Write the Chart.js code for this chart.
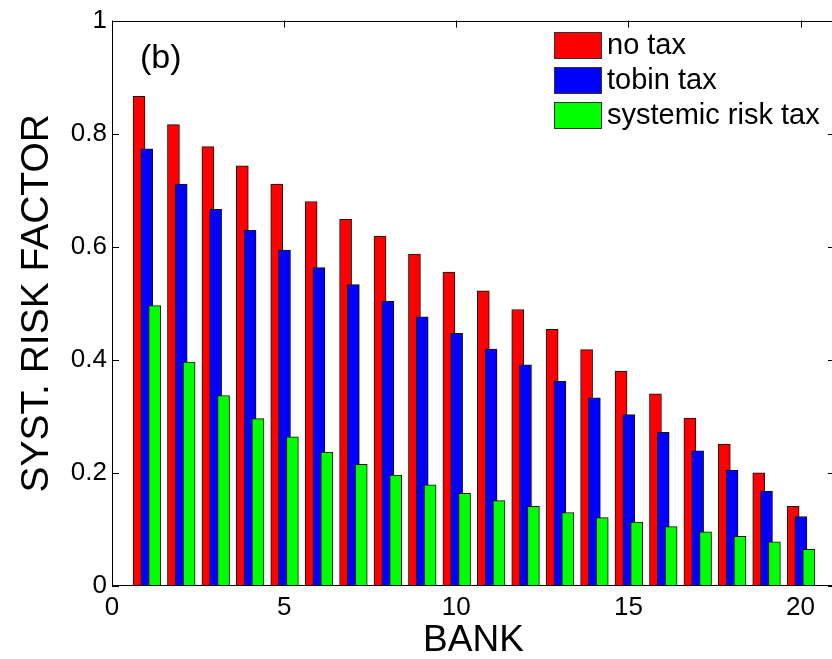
<!DOCTYPE html>
<html>
<head>
<meta charset="utf-8">
<script src="https://cdn.jsdelivr.net/npm/chart.js@4/dist/chart.umd.min.js"></script>
<style>
  html, body { margin: 0; padding: 0; background: #fff; overflow: hidden; }
</style>
</head>
<body>
<canvas id="chart" width="836" height="659"></canvas>
<script>
    const banks = [1, 2, 3, 4, 5, 6, 7, 8, 9, 10, 11, 12, 13, 14, 15, 16, 17, 18, 19, 20]
    const noTax = [0.866, 0.816, 0.777, 0.743, 0.711, 0.680, 0.649, 0.619, 0.587, 0.555,
                   0.522, 0.489, 0.454, 0.418, 0.380, 0.340, 0.297, 0.251, 0.200, 0.141]
    const tobinTax = [0.773, 0.711, 0.666, 0.629, 0.594, 0.563, 0.533, 0.504, 0.476, 0.447,
                      0.419, 0.391, 0.362, 0.333, 0.303, 0.272, 0.239, 0.205, 0.168, 0.123]
    const systemicTax = [0.496, 0.396, 0.337, 0.296, 0.264, 0.237, 0.215, 0.196, 0.179, 0.164,
                         0.151, 0.141, 0.130, 0.121, 0.113, 0.105, 0.096, 0.088, 0.078, 0.065]
    const seriesNames = ['no tax', 'tobin tax', 'systemic risk tax']
    const xTicks = [0, 5, 10, 15, 20]
    const yTicks = [0, 0.2, 0.4, 0.6, 0.8, 1]
    const panelLabel = '(b)'

    const FONT = "'Liberation Sans', Arial, Helvetica, sans-serif"

    // matlab style grouped bars: each series shifted a bit, bars overlap
    function toPoints(values, shift) {
        return values.map((v, i) => ({ x: banks[i] + shift, y: v }))
    }

    const boxPlugin = {
        id: 'box',
        beforeDatasetsDraw(chart) {
            const ctx = chart.ctx
            const a = chart.chartArea
            const xs = chart.scales.x
            const ys = chart.scales.y
            const len = 7
            ctx.save()
            ctx.strokeStyle = '#000'
            ctx.lineWidth = 1
            ctx.beginPath()
            xTicks.forEach(t => {
                const px = Math.round(xs.getPixelForValue(t)) + 0.5
                ctx.moveTo(px, a.bottom); ctx.lineTo(px, a.bottom - len)
                ctx.moveTo(px, a.top); ctx.lineTo(px, a.top + len)
            })
            yTicks.forEach(t => {
                const py = Math.round(ys.getPixelForValue(t)) + 0.5
                ctx.moveTo(a.left, py); ctx.lineTo(a.left + len, py)
                ctx.moveTo(a.right, py); ctx.lineTo(a.right - len, py)
            })
            ctx.stroke()
            ctx.restore()
        },
        afterDraw(chart) {
            const ctx = chart.ctx
            const a = chart.chartArea
            ctx.save()
            ctx.strokeStyle = '#000'
            ctx.lineWidth = 1
            ctx.strokeRect(Math.round(a.left) + 0.5, Math.round(a.top) + 0.5,
                Math.round(a.right - a.left) - 1, Math.round(a.bottom - a.top) - 1)

            // legend
            ctx.font = '29px ' + FONT
            ctx.textBaseline = 'middle'
            ctx.textAlign = 'left'
            chart.data.datasets.forEach((ds, i) => {
                const top = 32 + i * 35
                ctx.fillStyle = ds.backgroundColor
                ctx.fillRect(554, top, 48, 27)
                ctx.strokeStyle = '#333'
                ctx.strokeRect(554.5, top + 0.5, 47, 26)
                ctx.fillStyle = '#000'
                ctx.fillText(ds.label, 607, top + 14)
            })

            ctx.font = '34px ' + FONT
            ctx.textBaseline = 'alphabetic'
            ctx.fillText(panelLabel, 140, 68)
            ctx.restore()
        }
    }

    const data = {
        datasets: [{
            label: seriesNames[0],
            data: toPoints(noTax, -0.215),
            backgroundColor: '#ff0000',
            order: 2
        }, {
            label: seriesNames[1],
            data: toPoints(tobinTax, 0.01),
            backgroundColor: '#0000ff',
            order: 1
        }, {
            label: seriesNames[2],
            data: toPoints(systemicTax, 0.24),
            backgroundColor: '#00ff00',
            order: 0
        }]
    }

    const config = {
        type: 'bar',
        data: data,
        options: {
            responsive: false,
            animation: false,
            devicePixelRatio: 1,
            layout: { padding: { top: 17, right: 1, left: 0, bottom: 0 } },
            datasets: {
                bar: {
                    grouped: false,
                    barThickness: 12,
                    borderWidth: 1,
                    borderColor: '#111',
                    borderSkipped: 'start'
                }
            },
            scales: {
                x: {
                    type: 'linear',
                    min: 0,
                    max: 21,
                    offset: false,
                    grid: { display: false, drawTicks: false },
                    border: { display: false },
                    afterBuildTicks: axis => { axis.ticks = xTicks.map(v => ({ value: v })) },
                    afterFit: axis => { axis.height = 73 },
                    ticks: {
                        color: '#000',
                        padding: 6,
                        maxRotation: 0,
                        font: { family: FONT, size: 26 },
                        callback: v => String(v)
                    },
                    title: {
                        display: true,
                        text: 'BANK',
                        color: '#000',
                        padding: { top: 0, bottom: 0 },
                        font: { family: FONT, size: 37, lineHeight: 1.0 }
                    }
                },
                y: {
                    min: 0,
                    max: 1,
                    grid: { display: false, drawTicks: false },
                    border: { display: false },
                    afterBuildTicks: axis => { axis.ticks = yTicks.map(v => ({ value: v })) },
                    afterFit: axis => { axis.width = 112 },
                    ticks: {
                        color: '#000',
                        padding: 5,
                        font: { family: FONT, size: 26 },
                        callback: v => String(Math.round(v * 10) / 10)
                    },
                    title: {
                        display: true,
                        text: 'SYST. RISK FACTOR',
                        color: '#000',
                        padding: { top: 14, bottom: 0 },
                        font: { family: FONT, size: 39, lineHeight: 1.2 }
                    }
                }
            },
            plugins: {
                legend: { display: false },
                tooltip: { enabled: false }
            }
        },
        plugins: [boxPlugin]
    }

    var ctx = document.getElementById('chart')
    var grafico = new Chart(ctx, config)
</script>
</body>
</html>
